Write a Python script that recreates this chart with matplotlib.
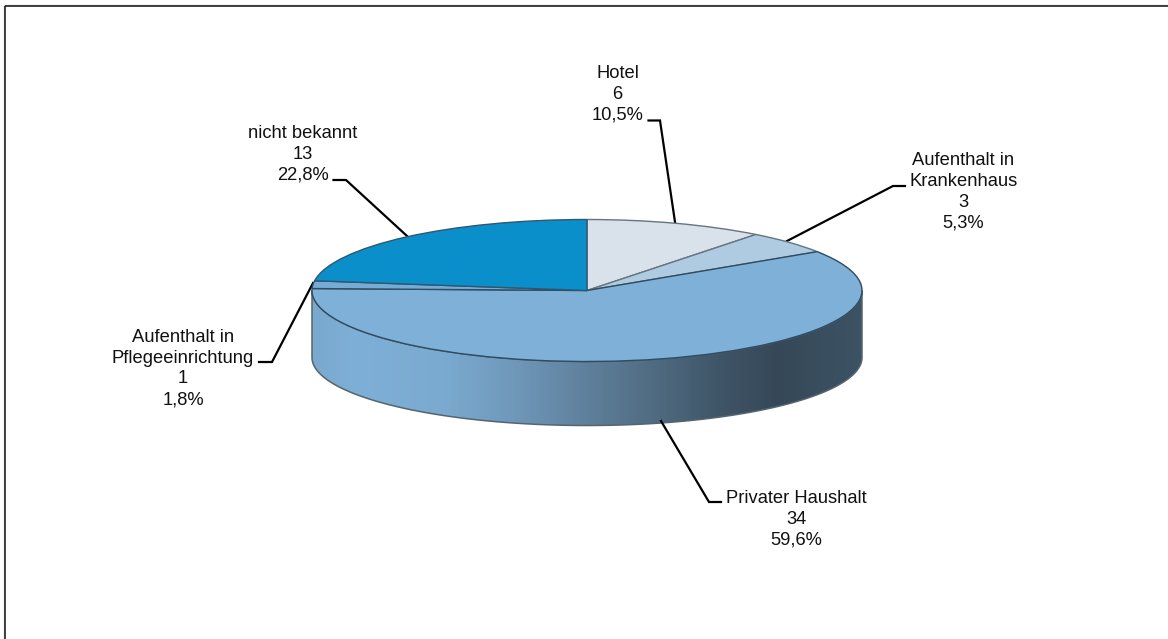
import numpy as np
import matplotlib
matplotlib.use("Agg")
import matplotlib.pyplot as plt
from matplotlib.colors import LinearSegmentedColormap
from matplotlib.patches import Polygon

plt.rcParams['font.family'] = ['Liberation Sans', 'DejaVu Sans']

# Data
names = ["Hotel", "Aufenthalt in\nKrankenhaus", "Privater Haushalt",
         "Aufenthalt in\nPflegeeinrichtung", "nicht bekannt"]
counts = [6, 3, 34, 1, 13]
percents = ["10,5%", "5,3%", "59,6%", "1,8%", "22,8%"]
colors = ["#D9E2EA", "#AECBE1", "#7FB0D7", "#74ACD6", "#0A8FCB"]
edges = ["#66757F", "#66757F", "#2F4C63", "#2F4C63", "#2F5870"]

# Layout (pixels)
W, H = 1168, 639
cx, cy, rx, ry, depth, ry_low = 587, 290.5, 275, 71, 67, 68
label_pos = [(617.5, 94.5), (963.5, 192), (796, 519), (183, 368.5), (303, 154.5)]
leaders = [
    [(648.5, 120.5), (660, 120.5), (675, 222)],
    [(787, 241), (893, 186), (905, 186)],
    [(661, 421), (709, 502), (721, 502)],
    [(313, 283), (272, 362), (259, 362)],
    [(333.5, 180), (346, 180), (407, 236)],
]

fig = plt.figure(figsize=(W / 100, H / 100), dpi=100, facecolor="white")
ax = fig.add_axes([0, 0, 1, 1])
ax.set_xlim(0, W)
ax.set_ylim(H, 0)
ax.axis("off")

# Frame (top and left only)
ax.plot([3.5, 3.5], [H, 5], color="#d0d0d0", lw=1, solid_capstyle="butt")
ax.plot([3.5, W], [5, 5], color="#d0d0d0", lw=1, solid_capstyle="butt")
ax.plot([4.6, 4.6], [H, 6], color="#111111", lw=1.1, solid_capstyle="butt")
ax.plot([4.6, W], [6.2, 6.2], color="#111111", lw=1.1, solid_capstyle="butt")

# Side wall with horizontal gradient
t = np.linspace(0, np.pi, 300)
ex = cx + rx * np.cos(t)
wall = np.column_stack([
    np.r_[ex, ex[::-1]],
    np.r_[cy + ry * np.sin(t), cy + depth + ry_low * np.sin(t[::-1])],
])
cmap = LinearSegmentedColormap.from_list("wall", [
    (0.00, "#7AA9CE"), (0.08, "#7EAFD6"), (0.24, "#7AAAD0"), (0.36, "#7099BB"),
    (0.50, "#5F809C"), (0.63, "#4F6A80"), (0.74, "#3F5568"), (0.85, "#364858"),
    (1.00, "#3C5364")])
im = ax.imshow(np.linspace(0, 1, 550)[None, :], cmap=cmap, aspect="auto",
               extent=[cx - rx, cx + rx, cy + depth + ry_low, cy], zorder=1)
ax.set_xlim(0, W)
ax.set_ylim(H, 0)
clip = Polygon(wall, closed=True, transform=ax.transData, fc="none", ec="none")
ax.add_patch(clip)
im.set_clip_path(clip)
ax.add_patch(Polygon(wall, closed=True, fc="none", ec="#55646F", lw=1.1, zorder=2))

# Leaders and labels
for pts, (lx, ly), name, n, pct in zip(leaders, label_pos, names, counts, percents):
    px, py = zip(*pts)
    ax.plot(px, py, color="black", lw=1.6, solid_joinstyle="miter", zorder=3)
    ax.text(lx, ly, f"{name}\n{n}\n{pct}", ha="center", va="center", ma="center",
            fontsize=13.2, color="#111111", linespacing=1.29, zorder=4)

# Top face: pie drawn in an axes stretched to the ellipse
pie_ax = fig.add_axes([(cx - rx) / W, 1 - (cy + ry) / H, 2 * rx / W, 2 * ry / H], zorder=2)
wedges, _ = pie_ax.pie(counts, colors=colors, startangle=90, counterclock=False, radius=1,
                       wedgeprops=dict(linewidth=1.0))
for wedge, edge in zip(wedges, edges):
    wedge.set_edgecolor(edge)
pie_ax.set_aspect("auto")
pie_ax.set_xlim(-1, 1)
pie_ax.set_ylim(-1, 1)
pie_ax.patch.set_visible(False)

fig.savefig("out.png", dpi=100)
